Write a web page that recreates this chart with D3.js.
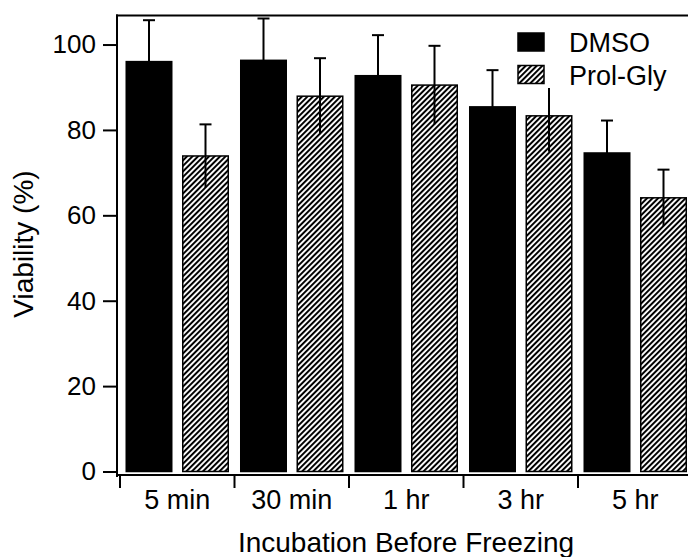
<!DOCTYPE html>
<html>
<head>
<meta charset="utf-8">
<script src="https://cdn.jsdelivr.net/npm/d3@7"></script>
<style>
  html, body { margin: 0; padding: 0; background: #fff; }
  svg { display: block; font-family: "Liberation Sans", Arial, sans-serif; }
</style>
</head>
<body>
<svg id="chart" width="688" height="557"></svg>
<script>
// ---- data ----
const categories = ["5 min", "30 min", "1 hr", "3 hr", "5 hr"];
const seriesNames = ["DMSO", "Prol-Gly"];
const dmsoValues = [96.0, 96.3, 92.7, 85.4, 74.6];
const dmsoErrors = [9.7, 9.8, 9.5, 8.6, 7.6];
const prolGlyValues = [73.9, 87.9, 90.5, 83.3, 64.1];
const prolGlyErrors = [7.4, 8.9, 9.2, 8.4, 6.6];
const yTicks = [0, 20, 40, 60, 80, 100];
const xTitle = "Incubation Before Freezing";
const yTitle = "Viability (%)";

const rows = [];
categories.forEach((c, i) => {
  rows.push({cat: c, series: seriesNames[0], v: dmsoValues[i], e: dmsoErrors[i]});
  rows.push({cat: c, series: seriesNames[1], v: prolGlyValues[i], e: prolGlyErrors[i]});
});

const svg = d3.select("#chart");

// hatch pattern
const defs = svg.append("defs");
const P = 3.9;
const pat = defs.append("pattern")
  .attr("id", "hatch")
  .attr("patternUnits", "userSpaceOnUse")
  .attr("width", P).attr("height", P)
  .attr("patternTransform", "rotate(45)");
pat.append("rect").attr("width", P).attr("height", P).attr("fill", "#fff");
pat.append("rect").attr("x", 0).attr("y", 0).attr("width", 2.0).attr("height", P)
  .attr("fill", "#000");

const fillFor = s => s === seriesNames[0] ? "#000" : "url(#hatch)";

// scales
const x0 = d3.scaleBand().domain(categories).range([120, 692.5]).padding(0);
const x1 = d3.scaleBand().domain(seriesNames).range([0, x0.bandwidth()])
  .paddingInner(0.1947).paddingOuter(0.1106);
const y = d3.scaleLinear().domain([0, 106.8]).range([471.5, 15.5]);

// bars
svg.append("g").selectAll("rect").data(rows).join("rect")
  .attr("x", d => x0(d.cat) + x1(d.series))
  .attr("width", x1.bandwidth())
  .attr("y", d => y(d.v))
  .attr("height", d => y(0) - y(d.v))
  .attr("fill", d => fillFor(d.series))
  .attr("stroke", "#000")
  .attr("stroke-width", 1.5);

// error bars (line through, cap on top only)
const eg = svg.append("g").attr("stroke", "#000").attr("stroke-width", 2);
rows.forEach(d => {
  const cx = x0(d.cat) + x1(d.series) + x1.bandwidth() / 2;
  eg.append("line").attr("x1", cx).attr("x2", cx)
    .attr("y1", y(d.v - d.e)).attr("y2", y(d.v + d.e));
  eg.append("line").attr("x1", cx - 6).attr("x2", cx + 6)
    .attr("y1", y(d.v + d.e)).attr("y2", y(d.v + d.e));
});

// y axis
const yAxis = d3.axisLeft(y).tickValues(yTicks).tickSize(14).tickPadding(7);
const gy = svg.append("g").attr("transform", "translate(117,0)").call(yAxis);
gy.select(".domain").remove();
gy.selectAll(".tick line").attr("stroke", "#000").attr("stroke-width", 2);
gy.selectAll(".tick text").attr("font-size", 26).attr("fill", "#000")
  .attr("font-family", "Liberation Sans, Arial, sans-serif");
svg.append("line").attr("x1", 117).attr("x2", 117).attr("y1", 14.5).attr("y2", 477)
  .attr("stroke", "#000").attr("stroke-width", 2);

// x axis
const gx = svg.append("g").attr("transform", "translate(0,475)");
gx.append("line").attr("x1", 117).attr("x2", 688).attr("y1", 0).attr("y2", 0)
  .attr("stroke", "#000").attr("stroke-width", 2);
const boundaries = categories.map(c => x0(c)).concat([x0(categories[categories.length - 1]) + x0.bandwidth()]);
gx.selectAll("line.sep").data(boundaries).join("line").attr("class", "sep")
  .attr("x1", d => d).attr("x2", d => d).attr("y1", 0).attr("y2", 13)
  .attr("stroke", "#000").attr("stroke-width", 2);
gx.selectAll("text").data(categories).join("text")
  .attr("x", d => x0(d) + x0.bandwidth() / 2)
  .attr("y", 34)
  .attr("text-anchor", "middle")
  .attr("font-size", 27)
  .text(d => d);

// top frame
svg.append("line").attr("x1", 116).attr("x2", 688).attr("y1", 15.5).attr("y2", 15.5)
  .attr("stroke", "#000").attr("stroke-width", 2);

// axis titles
svg.append("text").attr("x", 406).attr("y", 552).attr("text-anchor", "middle")
  .attr("font-size", 28).text(xTitle);
svg.append("text").attr("transform", "translate(33,244) rotate(-90)")
  .attr("text-anchor", "middle").attr("font-size", 28).text(yTitle);

// legend
const lg = svg.append("g");
lg.append("rect").attr("x", 508).attr("y", 22).attr("width", 178).attr("height", 66)
  .attr("fill", "#fff");
seriesNames.forEach((s, i) => {
  const yy = 33 + i * 32.5;
  lg.append("rect").attr("x", 518).attr("y", yy).attr("width", 26).attr("height", 18)
    .attr("fill", fillFor(s)).attr("stroke", "#000").attr("stroke-width", 1.5);
  lg.append("text").attr("x", 569).attr("y", yy + 19).attr("font-size", 27).text(s);
});
</script>
</body>
</html>
